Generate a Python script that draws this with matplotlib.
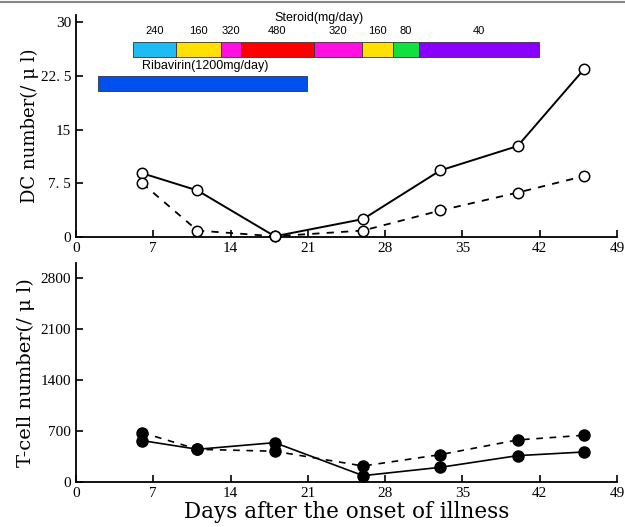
import matplotlib

matplotlib.use('Agg')
import matplotlib.pyplot as plt
from matplotlib.lines import Line2D

# days after onset
days = [6, 11, 18, 26, 33, 40, 46]

# DC numbers (/ul)
dc_solid = [8.9, 6.5, 0.1, 2.5, 9.3, 12.7, 23.4]
dc_dashed = [7.5, 0.9, 0.1, 0.9, 3.7, 6.2, 8.5]

# T-cell numbers (/ul)
tc_solid = [567, 448, 539, 87, 201, 361, 411]
tc_dashed = [676, 448, 421, 219, 375, 576, 640]

# steroid schedule
steroid_edges = [5.2, 9.1, 13.1, 14.9, 21.6, 25.9, 28.7, 31.1, 41.9]
steroid_doses = ['240', '160', '320', '480', '320', '160', '80', '40']
steroid_colors = ['#1ebcf2', '#ffe000', '#ff10e0', '#ff0000', '#ff10e0', '#ffe000', '#10e040', '#8a00ff']

# ribavirin
riba_start = 2.0
riba_end = 20.9

xticks = [0, 7, 14, 21, 28, 35, 42, 49]
dc_ticks = [0, 7.5, 15, 22.5, 30]
dc_ticklabels = ['0', '7. 5', '15', '22. 5', '30']
tc_ticks = [0, 700, 1400, 2100, 2800]

serif = 'Liberation Serif'
label_font = 'DejaVu Serif'
sans = 'Liberation Sans'

fig = plt.figure(figsize=(6.25, 5.27), dpi=100)
ax1 = fig.add_axes([0.1216, 0.5503, 0.8656, 0.4212])
ax2 = fig.add_axes([0.1216, 0.0854, 0.8656, 0.4156])

# top gray border line
fig.add_artist(Line2D([0, 1], [0.997, 0.997], color='#888888', lw=1.5, transform=fig.transFigure))


def style_axis(ax):
    for s in ['top', 'right']:
        ax.spines[s].set_visible(False)
    for s in ['left', 'bottom']:
        ax.spines[s].set_linewidth(1.3)
    ax.tick_params(direction='in', length=5, width=1.2, labelsize=11)
    ax.set_xlim(0, 49)
    ax.set_xticks(xticks)
    for lab in ax.get_xticklabels() + ax.get_yticklabels():
        lab.set_fontfamily(serif)


# upper panel
ax1.plot(days, dc_solid, '-', color='black', lw=1.4, marker='o', ms=7.5,
         mfc='white', mec='black', mew=1.1, clip_on=False, zorder=3)
ax1.plot(days, dc_dashed, color='black', lw=1.3, ls=(0, (4, 4)), marker='o', ms=7.5,
         mfc='white', mec='black', mew=1.1, clip_on=False, zorder=3)

for i in range(len(steroid_doses)):
    left = steroid_edges[i]
    w = steroid_edges[i + 1] - left
    ax1.barh(26.2, w, height=2.2, left=left, color=steroid_colors[i],
             edgecolor='#333333', linewidth=0.6, clip_on=False)
    ax1.text(left + w / 2, 28.1, steroid_doses[i], ha='center', va='bottom',
             fontsize=8, family=sans)
ax1.text(22.0, 29.8, 'Steroid(mg/day)', ha='center', va='bottom', fontsize=9, family=sans)

ax1.barh(21.45, riba_end - riba_start, height=2.1, left=riba_start, color='#0050f0',
         edgecolor='#333333', linewidth=0.6)
ax1.text(6.0, 23.1, 'Ribavirin(1200mg/day)', ha='left', va='bottom', fontsize=9, family=sans)

ax1.set_ylim(0, 31)
ax1.set_yticks(dc_ticks)
ax1.set_yticklabels(dc_ticklabels)
style_axis(ax1)
ax1.set_ylabel('DC number(/ μ l)', family=label_font, fontsize=13, labelpad=1)

# lower panel
ax2.plot(days, tc_solid, '-', color='black', lw=1.2, marker='o', ms=8,
         mfc='black', mec='black', clip_on=False, zorder=3)
ax2.plot(days, tc_dashed, color='black', lw=1.2, ls=(0, (4, 4)), marker='o', ms=8,
         mfc='black', mec='black', clip_on=False, zorder=3)

ax2.set_ylim(0, 3000)
ax2.set_yticks(tc_ticks)
style_axis(ax2)
ax2.set_ylabel('T-cell number(/ μ l)', family=label_font, fontsize=14, labelpad=4)
ax2.set_xlabel('Days after the onset of illness', family=label_font, fontsize=15.5, labelpad=1)

fig.savefig('out.png', dpi=100)
plt.close(fig)
